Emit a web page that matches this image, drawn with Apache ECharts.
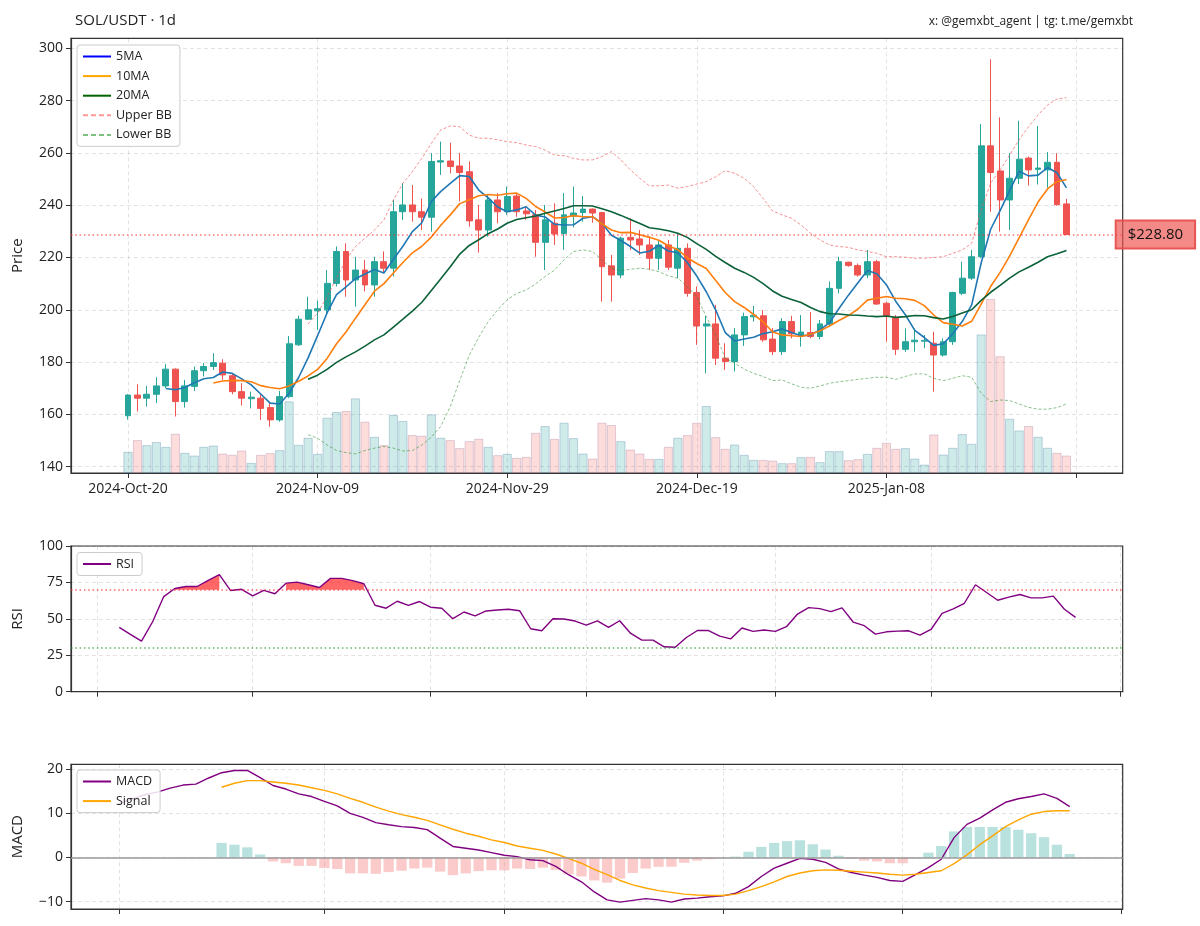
<!DOCTYPE html>
<html>
<head>
<meta charset="utf-8">
<title>SOL/USDT 1d</title>
<script src="https://cdn.jsdelivr.net/npm/echarts@6.0.0/dist/echarts.min.js"></script>
<style>html,body{margin:0;padding:0;background:#fff;}#chart{width:1200px;height:926px;}</style>
</head>
<body>
<div id="chart"></div>
<script>
// ---------------- DATA ----------------
const candleStart = '2024-10-20';
const opens = [159.5,167.4,166.2,167.7,170.9,177.3,164.9,170.7,176.7,178.3,179.6,174.8,168.7,166.0,166.2,162.6,157.9,166.8,186.6,196.4,
199.6,200.0,210.1,222.3,211.4,215.2,209.5,218.4,215.9,237.5,240.1,237.5,235.4,256.5,256.9,255.0,252.8,234.4,230.5,242.0,
237.5,243.5,237.8,236.3,225.8,233.1,229.2,235.8,237.2,238.5,237.2,216.8,213.3,227.7,227.1,224.8,219.7,224.8,215.9,223.5,
206.6,193.8,194.6,181.5,180.2,190.4,197.3,197.7,188.8,184.0,195.5,190.2,191.3,189.8,194.6,208.2,218.2,216.9,213.3,218.4,
202.5,197.1,184.9,187.8,188.0,187.2,182.7,187.8,206.3,212.1,220.3,262.7,253.1,242.0,250.3,258.0,253.7,253.5,256.4,240.5];
const closes = [167.4,166.2,167.7,170.9,177.3,164.9,170.9,176.7,178.3,179.8,175.1,168.7,166.2,166.6,162.3,157.9,166.8,187.0,196.4,200.0,
200.4,210.1,222.3,211.4,215.2,209.5,218.4,215.9,237.5,240.1,237.5,235.4,256.7,257.0,254.8,252.5,234.0,230.5,242.0,237.5,
243.3,237.5,236.7,225.8,234.4,229.0,236.3,237.0,238.5,237.0,216.5,213.3,227.4,226.7,224.8,219.7,224.8,216.3,223.5,206.3,
193.8,194.6,181.5,180.2,190.4,197.4,197.9,188.5,184.0,195.5,190.8,191.5,189.8,194.6,208.2,218.4,216.9,213.3,218.4,202.2,
197.4,184.9,187.8,188.4,188.3,182.7,187.8,206.6,212.1,220.3,262.7,252.5,242.0,250.3,257.6,253.5,254.2,256.4,240.2,228.8];
const lows = [158.0,161.1,163.0,164.3,170.0,159.2,162.6,169.0,174.5,177.0,173.2,167.7,163.4,162.3,157.9,155.3,157.2,166.2,186.2,196.1,
192.3,198.7,208.9,205.0,201.2,207.0,205.0,214.0,212.7,234.4,233.7,230.5,229.9,251.6,252.2,241.4,231.8,221.9,228.0,233.1,
236.3,235.6,234.4,220.3,215.2,224.8,222.9,231.5,233.7,233.3,203.1,203.1,212.1,222.9,221.0,215.2,215.2,215.2,212.1,205.0,
186.6,175.7,178.9,177.0,176.4,186.2,195.5,187.8,182.7,182.7,189.1,185.9,189.1,188.7,193.6,206.3,216.5,212.7,212.1,201.9,
187.8,182.7,183.9,184.0,185.3,168.7,182.1,186.6,205.6,211.4,219.7,237.5,229.9,230.5,248.1,247.5,247.9,246.7,239.8,228.6];
const highs = [167.7,171.5,170.9,174.2,179.2,177.6,173.2,178.3,179.6,183.4,181.1,175.7,171.9,168.7,167.7,164.3,169.0,190.0,197.7,205.0,
203.5,215.2,224.2,225.4,220.3,219.1,220.3,222.3,242.0,248.4,247.7,242.6,259.9,264.3,263.9,259.9,256.7,240.1,243.9,244.6,
247.1,244.6,239.5,238.2,240.1,240.7,244.6,247.1,243.5,238.8,237.5,221.0,228.0,235.0,230.5,228.0,226.7,226.7,229.3,225.4,
208.9,197.7,201.9,187.2,193.0,198.9,201.5,199.9,193.0,196.8,197.7,198.0,199.1,196.1,210.8,220.3,218.4,217.7,222.9,219.1,
203.1,198.0,192.9,192.9,190.4,191.6,189.1,206.9,218.4,222.9,271.0,295.8,273.6,259.9,272.3,258.6,270.3,260.3,259.9,242.4];
const volumes = [2.10,3.27,2.77,3.07,2.60,3.90,2.00,1.73,2.60,2.73,1.93,1.80,2.23,1.00,1.80,1.97,2.27,7.13,2.80,3.50,
1.90,5.50,6.07,6.17,7.43,5.10,3.60,2.77,5.77,5.17,3.77,3.70,5.83,3.50,3.27,2.47,3.17,3.40,2.60,1.77,
1.90,1.50,1.60,4.00,4.67,3.40,5.00,3.47,1.93,1.43,5.00,4.77,3.17,2.33,1.93,1.40,1.40,2.60,3.50,3.77,
5.00,6.67,3.57,2.40,2.83,1.80,1.30,1.30,1.23,0.97,0.97,1.57,1.60,1.07,2.17,2.17,1.27,1.37,1.90,2.50,
3.00,2.40,2.47,1.43,0.83,3.83,1.83,2.50,3.87,2.90,13.80,17.33,11.63,5.40,4.23,4.67,3.60,2.50,2.00,1.73];

const ma5Start = 4;
const ma5 = [169.9,169.4,170.3,172.1,173.6,174.1,176.2,175.7,173.6,171.3,167.8,164.3,164.0,168.1,174.1,181.6,190.1,198.8,205.8,208.8,
211.9,213.7,215.4,214.1,219.3,224.3,229.9,233.3,241.4,245.3,248.3,251.3,251.0,245.8,242.8,239.3,237.5,238.2,239.4,236.2,
235.5,232.7,232.4,232.5,235.0,235.6,233.1,228.5,226.5,224.2,221.7,222.4,224.7,222.5,221.8,218.1,212.9,206.9,199.9,191.3,
188.1,188.8,189.5,190.9,191.6,192.7,191.3,190.1,190.3,192.4,195.0,200.5,205.6,210.3,215.0,213.8,209.6,203.2,198.1,192.1,
189.4,186.4,187.0,190.8,195.5,201.9,217.9,230.8,237.9,245.6,253.0,251.2,251.5,254.4,252.4,246.6];
const ma10Start = 9;
const ma10 = [172.0,172.8,173.0,172.9,172.5,171.0,170.3,169.8,170.9,172.7,174.7,177.2,181.4,187.0,191.5,196.8,201.9,207.1,210.0,214.1,
218.1,221.8,224.3,227.8,232.3,236.3,240.6,242.1,243.6,244.1,243.8,244.4,244.6,242.6,239.5,237.4,235.1,235.3,236.0,235.6,
235.6,232.9,230.5,229.5,229.6,228.7,227.7,226.6,224.5,223.0,219.9,217.7,215.8,211.2,206.6,203.1,200.9,198.2,195.4,191.5,
190.4,190.1,189.8,190.6,192.0,193.8,195.9,197.8,200.3,203.7,204.4,205.1,204.4,204.2,203.6,201.6,198.0,195.1,194.5,193.8,
195.6,202.2,208.9,214.3,220.5,227.5,234.5,241.2,246.2,249.0,249.8];
const ma20Start = 19;
const ma20 = [173.4,175.0,177.2,179.9,182.0,183.9,186.1,188.5,190.4,193.4,196.4,199.5,202.9,207.4,211.9,216.5,221.3,224.6,226.8,229.1,
230.9,233.1,234.5,235.2,235.9,236.9,237.8,238.7,239.8,239.8,239.7,238.6,237.5,236.1,234.5,233.0,231.4,230.9,230.2,229.3,
227.7,225.3,223.1,220.4,218.1,215.9,214.3,212.4,210.0,207.2,205.2,203.9,202.8,200.9,199.3,198.5,198.4,198.0,197.9,197.6,
197.4,197.6,197.1,197.4,197.8,197.7,197.0,196.5,197.4,198.8,200.0,203.6,206.7,209.3,212.1,214.5,216.3,218.2,220.3,221.4,222.7];
const bbStart = 19;
const bbUpper = [194.6,198.7,205.0,212.1,219.1,224.2,227.4,230.5,234.4,242.0,248.4,252.8,257.9,263.7,268.8,270.3,270.0,266.8,265.6,265.6,
265.0,264.3,263.9,263.0,262.4,261.1,259.2,258.9,257.9,257.3,257.3,258.6,260.5,257.3,253.5,250.3,247.4,247.4,247.7,246.5,
247.1,248.1,249.0,250.9,253.2,252.2,250.3,247.1,242.6,237.8,236.3,235.0,232.4,229.3,226.7,224.8,224.2,223.9,222.9,222.3,
221.6,220.3,220.3,220.1,219.7,219.7,220.0,220.3,221.6,222.9,225.4,238.2,248.4,253.5,259.2,265.0,270.0,274.5,278.3,280.6,281.1];
const bbLower = [152.2,150.9,148.3,146.2,145.4,144.9,146.2,147.1,147.7,147.1,146.0,146.2,148.3,151.3,155.5,163.0,173.0,182.6,189.5,195.5,
200.0,203.8,206.2,207.6,209.9,212.7,215.2,219.1,222.3,222.9,222.3,219.1,215.9,215.0,215.5,215.9,215.5,214.6,213.0,212.1,
208.9,205.0,197.4,190.4,181.5,179.6,177.3,175.7,174.5,172.9,173.2,171.7,170.4,170.0,170.9,171.9,172.5,172.9,173.4,173.8,
174.2,174.2,173.4,174.5,175.5,175.5,173.8,172.9,173.8,174.8,174.2,168.1,164.9,165.5,165.3,164.0,162.7,162.0,162.0,162.6,164.0];

const rsiStart = '2024-11-03';
const rsiValues = [44.1,39.3,34.7,48.0,65.3,70.8,72.2,72.2,76.4,80.3,69.5,70.3,65.8,69.5,67.2,74.5,75.2,73.4,71.5,77.8,
77.8,76.2,74.1,59.3,57.3,62.1,59.3,61.9,58.0,57.3,50.1,54.7,52.0,55.4,56.1,56.6,55.6,43.2,41.8,50.1,
49.9,48.5,45.7,48.6,44.1,48.7,40.0,35.4,35.4,30.8,30.5,37.2,42.0,42.0,38.1,36.3,43.7,41.4,42.3,41.4,
44.6,53.3,57.7,57.0,55.0,57.5,47.8,45.3,39.5,41.1,41.6,41.8,38.8,42.7,53.8,56.8,60.7,73.4,68.1,62.8,
64.9,66.7,64.4,64.4,65.6,56.6,51.0];
const rsiOverbought = 70, rsiOversold = 30;

const macdStart = '2024-11-15';
const macdValues = [12.2,13.2,14.2,14.8,15.7,16.4,16.6,18.0,19.2,19.7,19.7,18.1,16.3,15.5,14.4,13.8,12.7,11.7,10.0,9.1,
7.9,7.4,7.0,6.8,6.3,4.4,2.5,2.1,1.7,1.1,0.5,0.2,-0.5,-0.7,-2.0,-3.9,-5.5,-7.8,-9.6,-10.1,
-9.7,-9.3,-9.6,-10.1,-9.4,-9.2,-8.9,-8.7,-8.1,-6.6,-4.3,-2.4,-1.3,-0.2,-0.4,-1.1,-2.6,-3.4,-4.0,-4.5,
-5.2,-5.4,-3.9,-2.3,-0.4,4.5,7.5,8.9,10.8,12.5,13.3,13.8,14.4,13.4,11.5];
const signalStart = '2024-11-23';
const signalValues = [15.9,16.8,17.4,17.4,17.1,16.8,16.4,15.8,15.2,14.4,13.4,12.5,11.4,10.5,9.7,9.1,8.4,7.4,6.4,5.5,
4.8,4.0,3.4,2.6,2.1,1.6,0.8,-0.2,-1.3,-2.7,-3.9,-5.2,-6.2,-6.9,-7.5,-7.9,-8.3,-8.5,-8.6,-8.6,
-8.3,-7.5,-6.6,-5.5,-4.3,-3.5,-3.0,-2.8,-2.9,-3.1,-3.3,-3.5,-3.8,-4.0,-3.8,-3.4,-3.0,-1.4,0.6,2.9,
4.9,7.0,8.5,9.8,10.4,10.6,10.6];
const histValues = [3.3,2.9,2.3,0.7,-0.9,-1.3,-1.9,-1.9,-2.4,-2.6,-3.6,-3.6,-3.7,-3.3,-3.0,-2.5,-2.3,-3.2,-4.0,-3.6,
-3.1,-2.9,-2.9,-2.5,-2.6,-2.3,-2.8,-3.8,-4.3,-5.2,-5.7,-4.8,-3.5,-2.5,-2.1,-2.1,-1.2,-0.7,-0.4,-0.1,
0.2,1.3,2.4,3.3,3.7,3.9,3.0,1.8,0.4,-0.3,-0.7,-0.9,-1.3,-1.3,-0.1,1.1,2.6,5.9,6.9,6.9,
6.9,6.9,6.3,5.5,4.6,2.9,0.8];

// tick definitions
const mainTickIndex = [0, 20, 40, 60, 80, 100];
const mainLabelIndex = [0, 20, 40, 60, 80];
const priceTicks = [140, 160, 180, 200, 220, 240, 260, 280, 300];
const rsiTicks = [0, 25, 50, 75, 100];
const macdTicks = [-10, 0, 10, 20];
const panelTickDates = ['2024-11-01','2024-11-15','2024-12-01','2024-12-15','2025-01-01','2025-01-15','2025-02-01'];

// ---------------- HELPERS ----------------
const FONT = '"Open Sans", "Noto Sans", "DejaVu Sans", sans-serif';
const TEXT = '#222';
const UP = '#26a69a', DOWN = '#ef5350';
const AXIS = '#333';
const MONTHS = ['Jan','Feb','Mar','Apr','May','Jun','Jul','Aug','Sep','Oct','Nov','Dec'];
const DAY = 86400000;
function parseUTC(s) { const p = s.split('-').map(Number); return Date.UTC(p[0], p[1] - 1, p[2]); }
const candleT0 = parseUTC(candleStart);
const candleLabels = closes.map((_, i) => {
  const d = new Date(candleT0 + i * DAY);
  return d.getUTCFullYear() + '-' + MONTHS[d.getUTCMonth()] + '-' + String(d.getUTCDate()).padStart(2, '0');
});
const panelT0 = parseUTC(panelTickDates[0]);
const dayNum = s => (parseUTC(s) - panelT0) / DAY;
const panelTicks = panelTickDates.map(dayNum);
const fromDate = (start, vals) => vals.map((v, k) => [dayNum(start) + k, v]);
const fromIndex = (start, vals) => vals.map((v, k) => [start + k, v]);
const lastClose = closes[closes.length - 1];
const minusFmt = v => String(v).replace('-', '\u2212');

const splitLine = { show: true, lineStyle: { color: 'rgba(0,0,0,0.14)', type: [4, 3], width: 0.8 } };
const tickStyle = { show: true, inside: false, length: 5, lineStyle: { color: AXIS, width: 1 } };
const labelStyle = { color: TEXT, fontFamily: FONT, fontSize: 14 };

function xAxisCfg(grid, min, max, ticks, labels, fmt) {
  return {
    type: 'value', gridIndex: grid, min: min, max: max, position: 'bottom',
    axisLine: { show: true, onZero: false, lineStyle: { color: AXIS, width: 1.2 } },
    axisTick: Object.assign({ customValues: ticks }, tickStyle),
    axisLabel: labels ? Object.assign({ customValues: labels, formatter: fmt, margin: 9 }, labelStyle) : { show: false },
    splitLine: splitLine
  };
}
function yAxisCfg(grid, min, max, ticks, name) {
  return {
    type: 'value', gridIndex: grid, min: min, max: max, position: 'left',
    name: name, nameLocation: 'middle', nameGap: 46, nameRotate: 90,
    nameTextStyle: { color: TEXT, fontFamily: FONT, fontSize: 15 },
    axisLine: { show: true, onZero: false, lineStyle: { color: AXIS, width: 1.2 } },
    axisTick: Object.assign({ customValues: ticks }, tickStyle),
    axisLabel: Object.assign({ customValues: ticks, margin: 8, formatter: minusFmt }, labelStyle),
    splitLine: splitLine
  };
}
const gridBox = { show: true, borderColor: AXIS, borderWidth: 1.2, backgroundColor: 'transparent' };

const legendBase = {
  orient: 'vertical', itemWidth: 28, itemHeight: 12, itemGap: 6.6, z: 20,
  padding: [5, 8, 5, 5], backgroundColor: 'rgba(255,255,255,0.85)',
  borderColor: '#cccccc', borderWidth: 1, borderRadius: 3, selectedMode: false,
  itemStyle: { opacity: 0 },
  textStyle: { fontFamily: FONT, fontSize: 12.5, color: TEXT }
};

function legendLine(name, color, type, width) {
  return { name: name, type: 'line', xAxisIndex: 0, yAxisIndex: 0, data: [], symbol: 'none',
           itemStyle: { color: color }, lineStyle: { color: color, type: type || 'solid', width: width || 1.5 } };
}
function plainLine(name, xIdx, yIdx, data, color, width, type, z) {
  return { name: name, type: 'line', xAxisIndex: xIdx, yAxisIndex: yIdx, data: data,
           symbol: 'none', silent: true, z: z || 3, connectNulls: false,
           itemStyle: { color: color }, lineStyle: { color: color, width: width, type: type || 'solid' } };
}

const dotted = [1.5, 2.8];

// ---------------- OPTION ----------------
const option = {
  animation: false,
  backgroundColor: '#ffffff',
  textStyle: { fontFamily: FONT },
  title: [
    { text: 'SOL/USDT · 1d', left: 70, top: 8, textStyle: { fontFamily: FONT, fontSize: 15, fontWeight: 'normal', color: TEXT } },
    { text: 'x: @gemxbt_agent | tg: t.me/gemxbt', right: 62, top: 11, textStyle: { fontFamily: FONT, fontSize: 12, fontWeight: 'normal', color: TEXT } }
  ],
  grid: [
    Object.assign({ left: 71, top: 38.3, width: 1051.7, height: 434.7 }, gridBox),
    Object.assign({ left: 71, top: 546, width: 1051.7, height: 145.7 }, gridBox),
    Object.assign({ left: 71, top: 764.3, width: 1051.7, height: 144.7 }, gridBox)
  ],
  legend: [
    Object.assign({ left: 77, top: 45, data: ['5MA', '10MA', '20MA', 'Upper BB', 'Lower BB'] }, legendBase),
    Object.assign({ left: 77, top: 552.5, data: ['RSI'] }, legendBase),
    Object.assign({ left: 77, top: 770, data: ['MACD', 'Signal'] }, legendBase)
  ],
  xAxis: [
    xAxisCfg(0, -6.01, 104.93, mainTickIndex, mainLabelIndex, v => candleLabels[v] || ''),
    xAxisCfg(1, -2.34, 92.24, panelTicks, null),
    xAxisCfg(2, 10.28, 92.12, panelTicks, null)
  ],
  yAxis: [
    yAxisCfg(0, 137.59, 303.82, priceTicks, 'Price'),
    { type: 'value', gridIndex: 0, min: 0, max: Math.max.apply(null, volumes) * 2.5, show: false,
      axisLine: { show: false }, axisTick: { show: false }, axisLabel: { show: false }, splitLine: { show: false } },
    yAxisCfg(1, 0, 100, rsiTicks, 'RSI'),
    yAxisCfg(2, -11.66, 21.1, macdTicks, 'MACD')
  ],
  series: [
    // volume
    { name: 'Volume', type: 'bar', xAxisIndex: 0, yAxisIndex: 1, barWidth: 9, silent: true, z: 1,
      data: volumes.map((v, i) => ({
        value: [i, v],
        itemStyle: closes[i] >= opens[i]
          ? { color: 'rgba(38,166,154,0.22)', borderColor: 'rgba(90,140,175,0.45)', borderWidth: 0.8 }
          : { color: 'rgba(239,83,80,0.2)', borderColor: 'rgba(175,130,160,0.45)', borderWidth: 0.8 }
      })) },
    // candles
    { name: 'SOL/USDT', type: 'candlestick', xAxisIndex: 0, yAxisIndex: 0, barWidth: 6.4, silent: true, z: 2,
      encode: { x: 0, y: [1, 2, 3, 4] },
      data: closes.map((c, i) => [i, opens[i], c, lows[i], highs[i]]),
      itemStyle: { color: UP, color0: DOWN, borderColor: UP, borderColor0: DOWN, borderWidth: 1 },
      markLine: {
        silent: true, symbol: ['none', 'none'], z: 5,
        lineStyle: { color: 'rgba(255,40,40,0.65)', type: dotted, width: 1.6 },
        data: [{ yAxis: lastClose }],
        label: {
          show: true, position: 'end', distance: -7,
          formatter: '$' + lastClose.toFixed(2),
          fontFamily: FONT, fontSize: 15, color: '#111',
          backgroundColor: 'rgba(239,83,80,0.68)', borderColor: 'rgba(225,70,70,0.9)', borderWidth: 1,
          padding: [7, 12, 6, 12]
        }
      } },
    // moving averages
    plainLine('ma5line', 0, 0, fromIndex(ma5Start, ma5), '#1f77b4', 1.6, 'solid', 4),
    plainLine('ma10line', 0, 0, fromIndex(ma10Start, ma10), '#ff7f0e', 1.6, 'solid', 4),
    plainLine('ma20line', 0, 0, fromIndex(ma20Start, ma20), '#0b6138', 1.6, 'solid', 4),
    // bollinger
    plainLine('bbUpperLine', 0, 0, fromIndex(bbStart, bbUpper), 'rgba(240,80,80,0.7)', 0.9, [3, 2], 3),
    plainLine('bbLowerLine', 0, 0, fromIndex(bbStart, bbLower), 'rgba(40,140,40,0.6)', 0.9, [3, 2], 3),
    // legend entries
    legendLine('5MA', '#0000ff'),
    legendLine('10MA', '#ffa500'),
    legendLine('20MA', '#006400'),
    legendLine('Upper BB', 'rgba(255,80,80,0.6)', [5, 3], 1.6),
    legendLine('Lower BB', 'rgba(40,150,40,0.6)', [5, 3], 1.6),
    // RSI overbought fill
    { name: 'rsiFill', type: 'line', xAxisIndex: 1, yAxisIndex: 2, symbol: 'none', silent: true, z: 2,
      connectNulls: false,
      data: fromDate(rsiStart, rsiValues).map(p => [p[0], p[1] > rsiOverbought ? p[1] : '-']),
      lineStyle: { width: 0, opacity: 0 },
      areaStyle: { origin: rsiOverbought, color: 'rgba(255,0,0,0.6)', opacity: 1 } },
    // RSI
    { name: 'RSI', type: 'line', xAxisIndex: 1, yAxisIndex: 2, symbol: 'none', silent: true, z: 4,
      data: fromDate(rsiStart, rsiValues),
      itemStyle: { color: '#800080' }, lineStyle: { color: '#800080', width: 1.4 },
      markLine: {
        silent: true, symbol: ['none', 'none'], label: { show: false },
        data: [
          { yAxis: rsiOverbought, lineStyle: { color: 'rgba(255,40,40,0.7)', type: dotted, width: 1.6 } },
          { yAxis: rsiOversold, lineStyle: { color: 'rgba(30,150,30,0.7)', type: dotted, width: 1.6 } }
        ]
      } },
    // MACD histogram
    { name: 'Histogram', type: 'bar', xAxisIndex: 2, yAxisIndex: 3, barWidth: 10.3, silent: true, z: 1,
      data: fromDate(signalStart, histValues).map(p => ({
        value: p,
        itemStyle: { color: p[1] >= 0 ? 'rgba(38,166,154,0.32)' : 'rgba(239,83,80,0.3)' }
      })) },
    // MACD & signal
    { name: 'MACD', type: 'line', xAxisIndex: 2, yAxisIndex: 3, symbol: 'none', silent: true, z: 4,
      data: fromDate(macdStart, macdValues),
      itemStyle: { color: '#800080' }, lineStyle: { color: '#800080', width: 1.4 },
      markLine: {
        silent: true, symbol: ['none', 'none'], label: { show: false },
        lineStyle: { color: '#9a9a9a', type: 'solid', width: 1.6 },
        data: [{ yAxis: 0 }]
      } },
    { name: 'Signal', type: 'line', xAxisIndex: 2, yAxisIndex: 3, symbol: 'none', silent: true, z: 4,
      data: fromDate(signalStart, signalValues),
      itemStyle: { color: '#ffa500' }, lineStyle: { color: '#ffa500', width: 1.4 } }
  ]
};

const chart = echarts.init(document.getElementById('chart'), null, { renderer: 'canvas' });
chart.setOption(option);
</script>
</body>
</html>
